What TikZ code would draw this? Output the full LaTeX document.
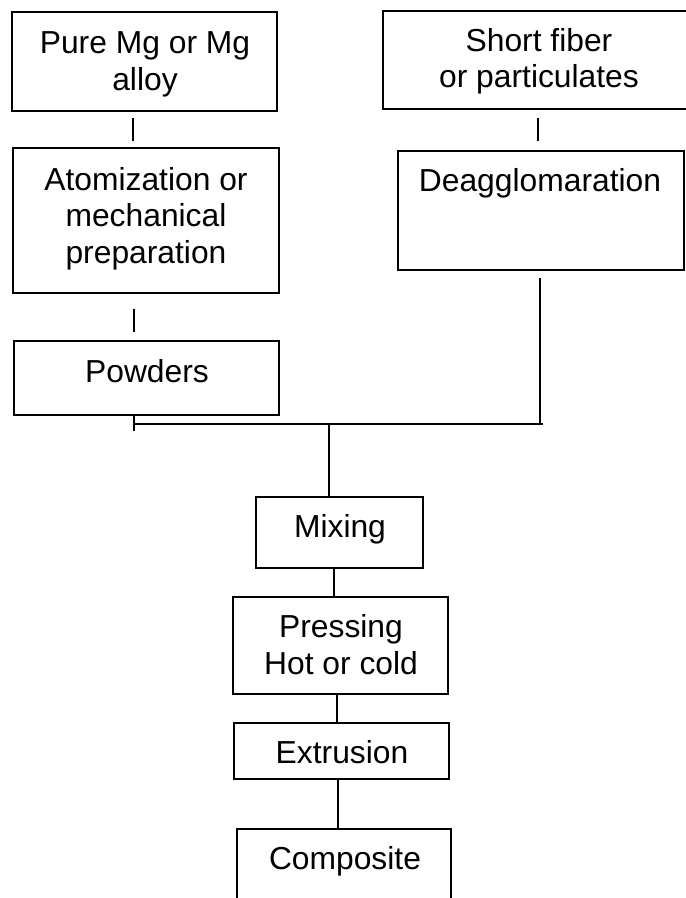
\documentclass[tikz,border=0pt]{standalone}
\usepackage{fontspec}
\setmainfont{Liberation Sans}
\begin{document}
\begin{tikzpicture}[x=1pt,y=-1pt,
  box/.style={draw=black, line width=2.6pt, inner sep=0pt, fill=none},
  lbl/.style={anchor=base, align=center, inner sep=0pt, font=\fontsize{31.8}{36.5}\selectfont},
  conn/.style={draw=black, line width=2.6pt}]
\useasboundingbox (0,0) rectangle (686,898);
\clip (0,0) rectangle (686,898);
\fill[white] (0,0) rectangle (686,898);
% boxes
\node[box, minimum width=265pt, minimum height=99pt]  (b1) at (144.5,61.5) {};
\node[box, minimum width=309pt, minimum height=98pt]  (b2) at (537.5,60) {};
\node[box, minimum width=266pt, minimum height=145pt] (b3) at (146,220.5) {};
\node[box, minimum width=286pt, minimum height=119pt] (b4) at (541,210.5) {};
\node[box, minimum width=265pt, minimum height=74pt]  (b5) at (146.5,378) {};
\node[box, minimum width=167pt, minimum height=71pt]  (b6) at (339.5,532.5) {};
\node[box, minimum width=215pt, minimum height=97pt]  (b7) at (340.5,645.5) {};
\node[box, minimum width=215pt, minimum height=56pt]  (b8) at (341.5,751) {};
\node[box, minimum width=214pt, minimum height=81pt]  (b9) at (344,869.5) {};
% texts (base anchor = baseline of the last line)
\node[lbl] (t1) at (145,90) {Pure Mg or Mg\\alloy};
\node[lbl] (t2) at (539,87.5) {Short fiber\\or particulates};
\node[lbl] (t3) at (146,263) {Atomization or\\mechanical\\preparation};
\node[lbl] (t4) at (540,191) {Deagglomaration};
\node[lbl] (t5) at (147,382) {Powders};
\node[lbl] (t6) at (340,537) {Mixing};
\node[lbl] (t7) at (341,674) {Pressing\\Hot or cold};
\node[lbl] (t8) at (342,763) {Extrusion};
\node[lbl] (t9) at (345,869) {Composite};
% connector helpers
\coordinate (xL1) at (133,0);
\coordinate (xR1) at (538,0);
\coordinate (xL2) at (134,0);
\coordinate (jL) at (134,424);
\coordinate (jR) at (540,424);
\coordinate (jE) at (543,424);
\coordinate (jM) at (329,424);
\coordinate (tk) at (134,431);
\coordinate (x6) at (334,0);
\coordinate (x7) at (337,0);
\coordinate (x8) at (338,0);
% connectors
\draw[conn, shorten <=6pt, shorten >=6pt] (b1.south -| xL1) -- (b3.north -| xL1);
\draw[conn, shorten <=8pt, shorten >=9pt] (b2.south -| xR1) -- (b4.north -| xR1);
\draw[conn, shorten <=15pt, shorten >=8pt] (b3.south -| xL2) -- (b5.north -| xL2);
\draw[conn, shorten <=7pt] (b4.south -| jR) -- (jR);
\draw[conn] (b5.south -| tk) -- (tk);
\draw[conn] (jL) -- (jE);
\draw[conn] (jM) -- (b6.north -| jM);
\draw[conn] (b6.south -| x6) -- (b7.north -| x6);
\draw[conn] (b7.south -| x7) -- (b8.north -| x7);
\draw[conn] (b8.south -| x8) -- (b9.north -| x8);
\end{tikzpicture}
\end{document}
